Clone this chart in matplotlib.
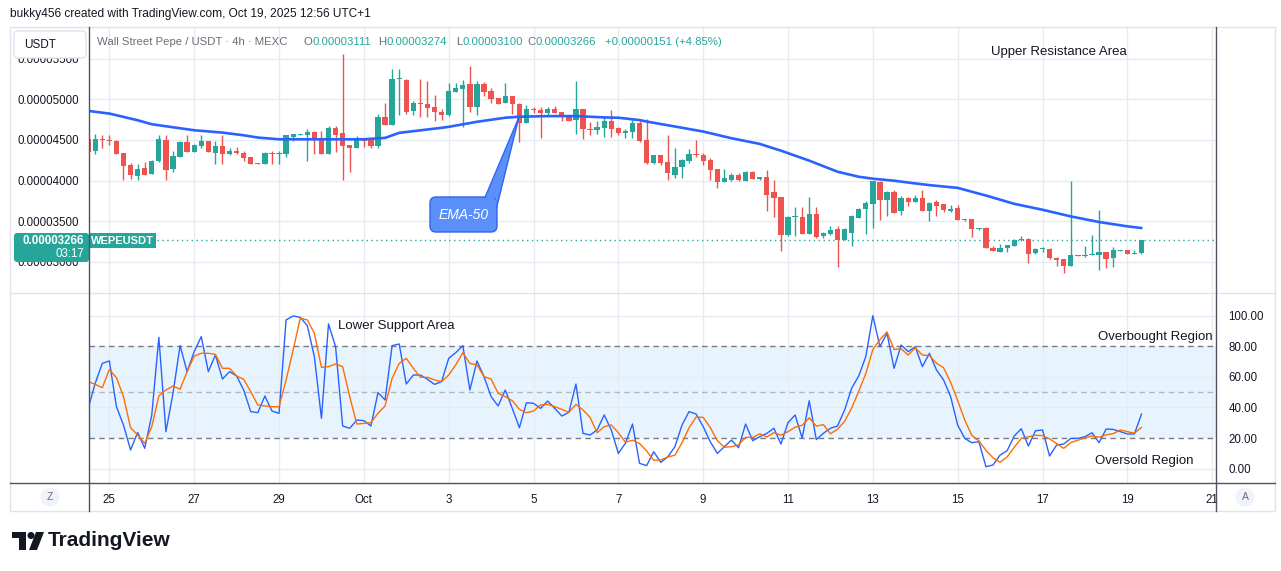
import numpy as np
import pandas as pd
import matplotlib
matplotlib.use('Agg')
import matplotlib.pyplot as plt
from matplotlib.patches import FancyBboxPatch, Polygon, Circle, Rectangle

plt.rcParams['font.family'] = ['Liberation Sans', 'DejaVu Sans']

# WEPE/USDT 4h candles, prices in units of 1e-5 USDT
times = pd.date_range('2025-09-24 12:00', periods=150, freq='4h')

opens = [
    4.516, 4.365, 4.504, 4.492, 4.492, 4.336, 4.189, 4.057, 4.152, 4.082,
    4.238, 4.496, 4.139, 4.291, 4.471, 4.352, 4.426, 4.484, 4.340, 4.422,
    4.328, 4.361, 4.340, 4.287, 4.209, 4.205, 4.336, 4.328, 4.328, 4.533,
    4.561, 4.557, 4.594, 4.512, 4.328, 4.643, 4.582, 4.434, 4.402, 4.504,
    4.496, 4.421, 4.777, 4.682, 5.252, 5.240, 4.860, 4.950, 4.942, 4.901,
    4.843, 4.806, 5.095, 5.128, 5.190, 4.909, 5.190, 5.103, 5.017, 4.950,
    5.041, 4.942, 4.711, 4.880, 4.868, 4.835, 4.876, 4.839, 4.793, 4.744,
    4.880, 4.636, 4.620, 4.645, 4.736, 4.649, 4.587, 4.599, 4.711, 4.496,
    4.212, 4.315, 4.228, 4.068, 4.171, 4.245, 4.319, 4.319, 4.253, 4.142,
    3.986, 4.006, 4.068, 3.998, 4.105, 4.014, 4.047, 3.862, 3.800, 3.327,
    3.549, 3.553, 3.340, 3.586, 3.315, 3.340, 3.401, 3.265, 3.356, 3.545,
    3.648, 3.710, 3.986, 3.760, 3.862, 3.620, 3.788, 3.739, 3.788, 3.624,
    3.731, 3.706, 3.624, 3.657, 3.522, 3.522, 3.404, 3.416, 3.176, 3.122,
    3.171, 3.192, 3.265, 3.286, 3.110, 3.155, 3.155, 3.053, 3.033, 2.951,
    3.086, 3.078, 3.086, 3.086, 3.118, 3.045, 3.139, 3.143, 3.102, 3.111,
]
highs = [
    4.530, 4.570, 4.557, 4.557, 4.500, 4.340, 4.221, 4.201, 4.225, 4.258,
    4.557, 4.557, 4.369, 4.484, 4.566, 4.451, 4.557, 4.490, 4.492, 4.557,
    4.402, 4.410, 4.361, 4.290, 4.210, 4.352, 4.369, 4.369, 4.566, 4.570,
    4.575, 4.631, 4.615, 4.606, 4.676, 4.676, 5.553, 4.440, 4.549, 4.520,
    4.500, 4.818, 4.950, 5.376, 5.376, 5.245, 4.975, 5.252, 5.227, 5.054,
    4.876, 5.198, 5.198, 5.231, 5.413, 5.219, 5.211, 5.140, 5.020, 5.198,
    5.045, 4.950, 4.930, 4.909, 4.909, 4.909, 4.917, 4.840, 4.795, 5.219,
    4.885, 4.723, 4.731, 4.785, 4.868, 4.660, 4.640, 4.752, 4.736, 4.760,
    4.320, 4.320, 4.562, 4.401, 4.260, 4.389, 4.500, 4.335, 4.282, 4.145,
    4.138, 4.097, 4.097, 4.117, 4.117, 4.050, 4.130, 4.006, 3.800, 3.560,
    3.677, 3.677, 3.800, 3.677, 3.365, 3.438, 3.438, 3.414, 3.574, 3.665,
    3.751, 3.994, 3.994, 3.874, 3.883, 3.809, 3.800, 3.821, 3.883, 3.731,
    3.755, 3.710, 3.694, 3.694, 3.525, 3.525, 3.420, 3.429, 3.192, 3.224,
    3.210, 3.286, 3.314, 3.290, 3.165, 3.184, 3.176, 3.055, 3.040, 4.000,
    3.090, 3.192, 3.327, 3.633, 3.120, 3.184, 3.145, 3.145, 3.143, 3.274,
]
lows = [
    4.350, 4.324, 4.402, 4.434, 4.328, 4.004, 4.025, 4.004, 4.070, 4.080,
    4.230, 4.004, 4.107, 4.290, 4.352, 4.350, 4.402, 4.350, 4.209, 4.209,
    4.311, 4.328, 4.246, 4.205, 4.200, 4.200, 4.209, 4.209, 4.295, 4.484,
    4.555, 4.246, 4.328, 4.328, 4.325, 4.352, 4.004, 4.107, 4.400, 4.414,
    4.405, 4.405, 4.680, 4.680, 4.806, 4.818, 4.806, 4.785, 4.785, 4.731,
    4.744, 4.793, 5.090, 4.661, 4.839, 4.806, 5.041, 4.950, 4.940, 4.950,
    4.818, 4.475, 4.710, 4.826, 4.525, 4.806, 4.826, 4.731, 4.736, 4.570,
    4.508, 4.558, 4.570, 4.537, 4.537, 4.560, 4.520, 4.520, 4.475, 4.207,
    4.205, 4.191, 4.006, 4.027, 4.027, 4.212, 4.294, 4.191, 4.006, 3.912,
    3.980, 4.000, 3.994, 3.995, 4.020, 4.010, 3.628, 3.553, 3.130, 3.315,
    3.315, 3.340, 3.340, 3.299, 3.299, 3.330, 2.936, 3.265, 3.191, 3.545,
    3.348, 3.418, 3.512, 3.566, 3.595, 3.582, 3.685, 3.735, 3.625, 3.502,
    3.563, 3.612, 3.612, 3.510, 3.505, 3.306, 3.398, 3.170, 3.130, 3.120,
    3.122, 3.190, 3.257, 2.992, 3.102, 3.122, 3.041, 2.951, 2.869, 2.950,
    3.070, 3.061, 3.080, 2.898, 2.927, 2.939, 3.137, 3.100, 3.100, 3.100,
]
closes = [
    4.352, 4.516, 4.496, 4.484, 4.328, 4.180, 4.066, 4.139, 4.070, 4.246,
    4.508, 4.131, 4.299, 4.471, 4.352, 4.439, 4.484, 4.352, 4.422, 4.328,
    4.361, 4.340, 4.279, 4.205, 4.201, 4.340, 4.328, 4.340, 4.557, 4.570,
    4.570, 4.602, 4.500, 4.328, 4.643, 4.557, 4.426, 4.402, 4.500, 4.488,
    4.421, 4.777, 4.686, 5.252, 5.260, 4.839, 4.950, 4.938, 4.897, 4.843,
    4.810, 5.099, 5.136, 5.178, 4.909, 5.190, 5.095, 5.008, 4.942, 5.041,
    4.942, 4.711, 4.880, 4.868, 4.835, 4.876, 4.826, 4.785, 4.736, 4.880,
    4.636, 4.624, 4.661, 4.736, 4.632, 4.579, 4.612, 4.711, 4.488, 4.212,
    4.315, 4.220, 4.088, 4.163, 4.253, 4.327, 4.311, 4.245, 4.130, 3.986,
    4.035, 4.068, 4.006, 4.109, 4.023, 4.047, 3.821, 3.788, 3.327, 3.553,
    3.553, 3.340, 3.586, 3.307, 3.360, 3.389, 3.265, 3.401, 3.566, 3.656,
    3.726, 3.994, 3.760, 3.862, 3.607, 3.788, 3.739, 3.788, 3.628, 3.722,
    3.682, 3.633, 3.645, 3.510, 3.510, 3.400, 3.416, 3.171, 3.135, 3.176,
    3.204, 3.273, 3.278, 3.102, 3.163, 3.163, 3.053, 3.020, 2.951, 3.082,
    3.078, 3.086, 3.094, 3.118, 3.037, 3.143, 3.143, 3.102, 3.115, 3.266,
]

# EMA-50 (days after Sep 25 00:00, price in 1e-5)
ema_days = [-0.5, 0, 0.667, 1.0, 1.333, 2.0, 2.667, 3.167, 3.5, 4.0, 4.667, 5.333,
            6.0, 6.5, 6.833, 7.833, 8.0, 8.667, 9.333, 9.667, 10.333, 11.0, 11.667,
            12.0, 12.5, 12.667, 13.333, 14.0, 14.667, 15.333, 15.833, 16.5, 17.167,
            17.667, 18.0, 18.5, 19.0, 19.333, 20.0, 20.667, 21.333, 22.0, 22.667,
            23.333, 24.0, 24.333]
ema_vals = [4.857, 4.824, 4.742, 4.693, 4.668, 4.619, 4.590, 4.557, 4.529, 4.508,
            4.508, 4.508, 4.508, 4.525, 4.587, 4.649, 4.661, 4.723, 4.773, 4.785,
            4.793, 4.793, 4.777, 4.773, 4.744, 4.726, 4.665, 4.603, 4.521, 4.451,
            4.368, 4.245, 4.109, 4.047, 4.023, 3.998, 3.965, 3.944, 3.910, 3.816,
            3.714, 3.641, 3.559, 3.490, 3.437, 3.416]

stoch_k = [
    39.4, 55.8, 68.8, 70.4, 40.5, 28.5, 12.2, 23.7, 13.3, 35.1,
    85.8, 24.2, 49.2, 80.4, 63.4, 76.5, 86.3, 63.4, 74.3, 58.6,
    63.4, 60.6, 51.4, 37.3, 36.6, 47.5, 37.7, 36.2, 97.2, 99.8,
    98.9, 93.5, 73.2, 32.9, 94.6, 79.7, 27.9, 26.4, 31.8, 31.4,
    27.9, 49.7, 44.9, 80.4, 81.5, 55.3, 61.2, 61.2, 58.4, 55.1,
    56.9, 72.1, 75.8, 80.4, 51.4, 70.4, 60.1, 47.1, 41.0, 51.4,
    39.4, 26.8, 43.1, 42.7, 39.4, 44.2, 39.4, 34.4, 36.8, 55.3,
    23.1, 22.0, 25.3, 35.1, 25.3, 10.0, 16.6, 29.2, 3.5, 2.0,
    11.1, 4.1, 7.8, 14.4, 28.5, 37.3, 35.7, 27.5, 17.6, 10.0,
    14.4, 18.7, 13.7, 29.2, 18.3, 20.9, 23.1, 26.4, 16.1, 30.1,
    35.1, 20.0, 44.4, 19.0, 23.1, 26.4, 27.9, 38.3, 52.5, 60.6,
    73.2, 100.0, 79.7, 88.5, 65.6, 80.8, 76.5, 79.7, 66.7, 75.4,
    64.5, 58.0, 47.1, 28.5, 19.8, 17.0, 17.6, 1.3, 2.4, 8.9,
    11.8, 21.4, 26.1, 14.8, 24.8, 25.3, 8.3, 15.5, 16.1, 19.8,
    19.8, 20.9, 23.5, 17.0, 25.9, 25.7, 24.2, 22.7, 22.7, 35.7,
]
stoch_d = [
    56.9, 55.1, 52.9, 64.9, 59.5, 47.1, 26.8, 22.0, 16.6, 27.5,
    47.5, 51.4, 54.0, 51.9, 63.4, 73.6, 75.4, 75.4, 74.7, 65.6,
    65.6, 60.6, 58.4, 50.3, 41.6, 41.0, 40.5, 40.5, 58.0, 77.6,
    98.3, 97.2, 88.5, 66.2, 66.7, 68.4, 66.7, 47.1, 29.2, 29.6,
    30.1, 36.2, 41.0, 59.0, 68.8, 72.1, 65.6, 59.7, 59.7, 58.0,
    56.9, 61.2, 67.8, 75.8, 68.8, 67.8, 60.1, 58.6, 49.2, 47.1,
    44.4, 38.8, 36.6, 37.7, 41.6, 42.0, 40.5, 38.8, 36.8, 42.0,
    38.4, 33.5, 23.5, 27.5, 28.6, 23.5, 17.3, 18.6, 16.4, 11.6,
    5.5, 5.7, 7.7, 8.8, 16.9, 26.7, 33.8, 33.5, 26.9, 18.4,
    14.0, 14.4, 15.6, 20.5, 20.4, 22.8, 20.8, 23.5, 21.9, 24.2,
    27.1, 28.4, 33.2, 27.8, 28.8, 22.8, 25.8, 30.9, 39.6, 50.5,
    62.1, 77.9, 84.3, 89.4, 77.9, 78.3, 74.3, 79.0, 74.3, 73.9,
    68.9, 66.0, 56.5, 44.5, 31.8, 21.8, 18.1, 12.0, 7.1, 4.2,
    7.7, 14.0, 19.8, 20.8, 21.9, 21.6, 19.5, 16.4, 13.3, 17.1,
    18.6, 20.2, 21.4, 20.5, 22.1, 22.9, 25.3, 24.2, 23.2, 27.0,
]

date_ticks = [0, 2, 4, 6, 8, 10, 12, 14, 16, 18, 20, 22, 24, 26]
date_labels = ['25', '27', '29', 'Oct', '3', '5', '7', '9', '11', '13', '15', '17', '19', '21']
price_ticks = [3.0, 3.5, 4.0, 4.5, 5.0, 5.5]
stoch_ticks = [0, 20, 40, 60, 80, 100]

UP, DOWN = '#26a69a', '#ef5350'
GRID = '#e6ebf2'
TEXT = '#131722'
DARK = '#50535e'
MUTED = '#6a6d78'
W, H = 1281, 571


def frame(x0, y0, x1, y1):
    return [x0 / W, 1 - y1 / H, (x1 - x0) / W, (y1 - y0) / H]


x = np.asarray((times - pd.Timestamp('2025-09-25')) / pd.Timedelta(days=1))
o = np.array(opens) * 1e-5
h = np.array(highs) * 1e-5
l = np.array(lows) * 1e-5
c = np.array(closes) * 1e-5
col = np.where(c >= o, UP, DOWN)

fig = plt.figure(figsize=(12.81, 5.71), dpi=100)

# ---- price pane ----
ax = fig.add_axes(frame(89, 27, 1216, 293))
ax.vlines(x, l, h, colors=col, lw=1.0, zorder=3)
ax.bar(x, np.maximum(np.abs(c - o), 0.012e-5), bottom=np.minimum(o, c), width=0.125,
       color=col, lw=0, zorder=4)
ax.plot(ema_days, np.array(ema_vals) * 1e-5, color='#2962ff', lw=1.9, zorder=5,
        solid_capstyle='round')
ax.axhline(c[-1], color=UP, lw=1, ls=(0, (1, 2.5)), zorder=2)
ax.set_xlim(-0.48, 26.09)
ax.set_ylim(2.617e-5, 5.889e-5)
ax.set_xticks(date_ticks)
ax.set_yticks(np.array(price_ticks) * 1e-5)
ax.set_yticklabels([f'{p * 1e-5:.8f}' for p in price_ticks])
ax.grid(True, color=GRID, lw=1)
ax.set_axisbelow(True)
for s in ax.spines.values():
    s.set_visible(False)
ax.tick_params(axis='both', length=0)
ax.tick_params(axis='x', labelbottom=False)
ax.tick_params(axis='y', labelsize=8.3, labelcolor=TEXT, pad=7)

# ---- stochastic pane ----
ax2 = fig.add_axes(frame(89, 293, 1216, 483))
ax2.axhspan(20, 80, color='#2196f3', alpha=0.1, lw=0, zorder=0)
for v in [0, 40, 60, 100]:
    ax2.axhline(v, color=GRID, lw=1, zorder=1)
ax2.axhline(80, color='#787b86', lw=1, ls=(0, (4, 3)), zorder=2)
ax2.axhline(20, color='#787b86', lw=1, ls=(0, (4, 3)), zorder=2)
ax2.axhline(50, color='#787b86', lw=1, ls=(0, (4, 3)), alpha=0.5, zorder=2)
ax2.plot(x, stoch_k, color='#2962ff', lw=1.0, zorder=4)
ax2.plot(x, stoch_d, color='#ff6d00', lw=1.0, zorder=4)
ax2.set_xlim(-0.48, 26.09)
ax2.set_ylim(-9.35, 114.8)
ax2.set_xticks(date_ticks)
ax2.set_xticklabels(date_labels)
ax2.grid(axis='x', color=GRID, lw=1)
ax2.set_axisbelow(True)
ax2.yaxis.tick_right()
ax2.set_yticks(stoch_ticks)
ax2.set_yticklabels([f'{v:.2f}' for v in stoch_ticks])
for s in ax2.spines.values():
    s.set_visible(False)
ax2.tick_params(axis='both', length=0, labelsize=8.3, labelcolor=TEXT)
ax2.tick_params(axis='y', pad=9)
ax2.tick_params(axis='x', pad=8)

# ---- overlay in pixel coordinates ----
ov = fig.add_axes([0, 0, 1, 1], zorder=10)
ov.set_xlim(0, W)
ov.set_ylim(H, 0)
ov.axis('off')
ov.patch.set_alpha(0)

ov.text(10, 14, 'bukky456 created with TradingView.com, Oct 19, 2025 12:56 UTC+1',
        fontsize=8.6, color=TEXT, va='center')

ov.add_patch(Rectangle((10, 27), 1265, 484, fill=False, ec='#e0e3eb', lw=1))
ov.plot([10, 1275], [293, 293], color='#e0e3eb', lw=1)
ov.plot([10, 1275], [483, 483], color=DARK, lw=1)
ov.plot([89, 89], [27, 511], color=DARK, lw=1)
ov.plot([1216, 1216], [27, 511], color=DARK, lw=1)

# currency button
ov.add_patch(FancyBboxPatch((14, 31), 72, 27, boxstyle='round,pad=0,rounding_size=4',
                            fc='white', ec='#e0e3eb', lw=1))
ov.text(24, 45, 'USDT', fontsize=8.5, color=TEXT, va='center')

# legend line with OHLC of the last candle
chg = c[-1] - c[-2]
ov.text(97, 42, 'Wall Street Pepe / USDT · 4h · MEXC', fontsize=8.2, color=MUTED, va='center')
for lx, letter, gap, val in [(303, 'O', 9.5, o[-1]), (378, 'H', 8.5, h[-1]),
                             (456, 'L', 6.5, l[-1]), (527, 'C', 8.5, c[-1])]:
    ov.text(lx, 42, letter, fontsize=8.2, color=MUTED, va='center')
    ov.text(lx + gap, 42, f'{val:.8f}', fontsize=8.2, color=UP, va='center')
ov.text(605, 42, f'+{chg:.8f} (+{chg / c[-2] * 100:.2f}%)', fontsize=8.2, color=UP, va='center')

# last price labels
ov.add_patch(FancyBboxPatch((14, 233), 75, 29, boxstyle='round,pad=0,rounding_size=3',
                            fc=UP, ec='none'))
ov.text(84, 240.5, f'{c[-1]:.8f}', fontsize=8.3, color='white', fontweight='bold',
        ha='right', va='center')
ov.text(84, 254, '03:17', fontsize=8.3, color='white', ha='right', va='center')
ov.add_patch(Rectangle((89, 233), 67, 14.5, fc=UP, ec='none'))
ov.text(122.5, 240.5, 'WEPEUSDT', fontsize=8, color='white', fontweight='bold',
        ha='center', va='center')

# EMA-50 callout
ov.add_patch(FancyBboxPatch((430, 197), 67, 35, boxstyle='round,pad=0,rounding_size=6',
                            fc='#5b8ff9', ec='#2f66f0', lw=1))
ov.add_patch(Polygon([(485, 198), (519, 117), (496.5, 208), (496.5, 198)],
                     closed=True, fc='#5b8ff9', ec='none'))
ov.plot([485, 519, 496.5], [197.5, 117, 208], color='#2f66f0', lw=1)
ov.text(463.5, 215, 'EMA-50', fontsize=10, color='white', style='italic',
        ha='center', va='center')

# annotations
ov.text(1059, 52, 'Upper Resistance Area', fontsize=9.5, color=TEXT, ha='center', va='center')
ov.text(338, 326, 'Lower Support Area', fontsize=9.5, color=TEXT, ha='left', va='center')
ov.text(1213, 337, 'Overbought Region', fontsize=9.5, color=TEXT, ha='right', va='center')
ov.text(1095, 461, 'Oversold Region', fontsize=9.5, color=TEXT, ha='left', va='center')

# scale buttons
for bx, letter in [(50, 'Z'), (1245, 'A')]:
    ov.add_patch(Circle((bx, 497), 9.5, fc='#f0f3fa', ec='none'))
    ov.text(bx, 497.5, letter, fontsize=7.5, color=MUTED, ha='center', va='center')

# TradingView logo
ov.add_patch(Rectangle((12, 532), 14, 6, fc=TEXT, ec='none'))
ov.add_patch(Rectangle((19, 532), 7, 18, fc=TEXT, ec='none'))
ov.add_patch(Circle((31, 535.5), 3.5, fc=TEXT, ec='none'))
ov.add_patch(Polygon([(29, 550), (36, 532), (44, 532), (37, 550)], closed=True, fc=TEXT, ec='none'))
ov.text(48, 541, 'TradingView', fontsize=15, fontweight='bold', color=TEXT, va='center')

fig.savefig('out.png', dpi=100, facecolor='white')
plt.close(fig)
